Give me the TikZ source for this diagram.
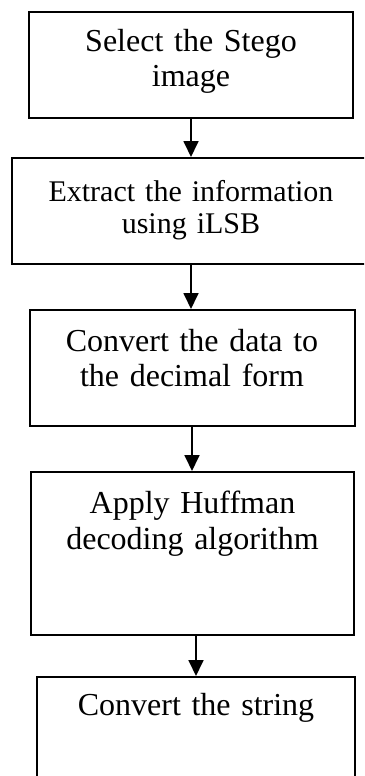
\documentclass[tikz,border=0pt]{standalone}
\usepackage{fontspec}
\setmainfont{Liberation Serif}
\usetikzlibrary{arrows.meta}
\tikzset{
  stepbox/.style={draw, line width=1pt, text width=#1, align=center, inner sep=0pt, anchor=north,
    font=\fontsize{16}{17.5}\selectfont},
  flow/.style={line width=0.9pt, -{Triangle[width=7.5pt,length=8pt]}}
}
\begin{document}
\begin{tikzpicture}[x=0.5pt,y=-0.5pt]
\useasboundingbox (0,0) rectangle (364,776);
\clip (0,0) rectangle (364,776);
\node[stepbox=162pt, text height=19.5pt, text depth=33.5pt] (select) at (191,11) {Select the Stego\\ image};
\node[stepbox=179pt, text height=21.5pt, text depth=31.5pt, font=\fontsize{15}{16}\selectfont] (extract) at (191,157) {Extract the information\\ using iLSB};
\node[stepbox=162.5pt, text height=20.5pt, text depth=37.5pt] (decimal) at (192,309) {Convert the data to\\ the decimal form};
\node[stepbox=161.5pt, text height=20.5pt, text depth=61pt, font=\fontsize{16}{18}\selectfont] (huffman) at (192.5,471) {Apply Huffman\\ decoding algorithm};
\node[stepbox=159pt, text height=19pt, text depth=51pt] (string) at (196,676) {Convert the string};
\draw[flow] (select.south) -- (select.south |- extract.north);
\draw[flow] (extract.south) -- (extract.south |- decimal.north);
\draw[flow] (decimal.south) -- (decimal.south |- huffman.north);
\draw[flow] (huffman.south -| string.north) -- (string.north);
\end{tikzpicture}
\end{document}
